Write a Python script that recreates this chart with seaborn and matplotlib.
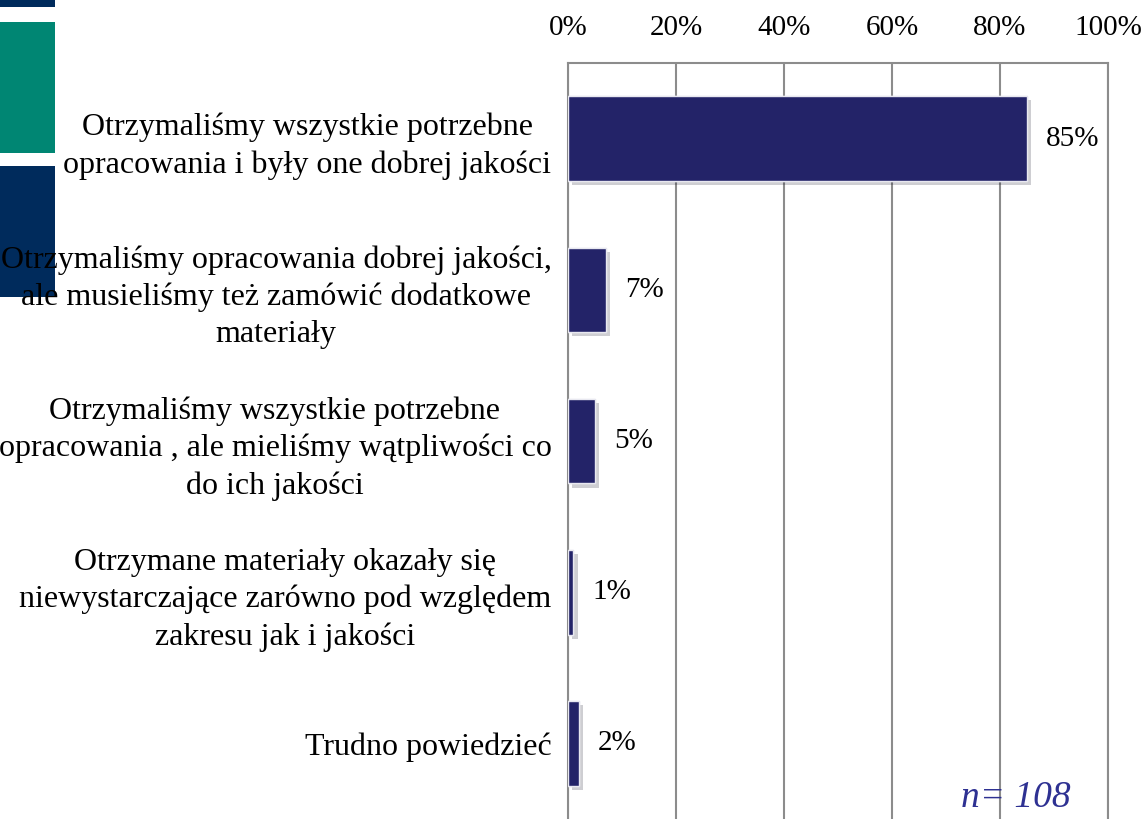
import seaborn as sns
import matplotlib.pyplot as plt
import matplotlib.patheffects as pe
from matplotlib.patches import Rectangle
import pandas as pd

categories = [
    'Otrzymaliśmy wszystkie potrzebne\nopracowania i były one dobrej jakości',
    'Otrzymaliśmy opracowania dobrej jakości,\nale musieliśmy też zamówić dodatkowe\nmateriały',
    'Otrzymaliśmy wszystkie potrzebne\nopracowania , ale mieliśmy wątpliwości co\ndo ich jakości',
    'Otrzymane materiały okazały się\nniewystarczające zarówno pod względem\nzakresu jak i jakości',
    'Trudno powiedzieć',
]
values = [85, 7, 5, 1, 2]
tick_vals = [0, 20, 40, 60, 80, 100]
n_label = 'n= 108'

sns.set_style('white')
plt.rcParams['font.family'] = ['Liberation Serif', 'DejaVu Serif']
plt.rcParams['text.color'] = 'black'
plt.rcParams['xtick.color'] = 'black'
plt.rcParams['ytick.color'] = 'black'

df = pd.DataFrame({'cat': categories, 'val': values})

fig = plt.figure(figsize=(11.43, 8.19), dpi=100)
ax = fig.add_axes([0.497, 0.0, 0.4724, 0.923])

# decorative blocks on the left edge
for (y0, h, c) in [(0.991, 0.02, '#002b5c'), (0.813, 0.16, '#008673'), (0.637, 0.16, '#002b5c')]:
    fig.add_artist(Rectangle((0, y0), 0.048, h, transform=fig.transFigure,
                             facecolor=c, edgecolor='none', zorder=-1))

sns.barplot(data=df, x='val', y='cat', color='#232368', width=0.56,
            saturation=1, ax=ax, zorder=3)
for p in ax.patches:
    p.set_edgecolor('#e8e8f0')
    p.set_linewidth(1)
    p.set_path_effects([pe.withSimplePatchShadow(offset=(3, -3), alpha=0.2), pe.Normal()])

for i, v in enumerate(values):
    ax.text(v + 3.5, i, f'{v}%', va='center', ha='left', fontsize=21, color='black')

ax.set_xlim(0, 100)
ax.set_ylim(4.5, -0.5)
ax.set_xticks(tick_vals)
ax.set_xticklabels([f'{t}%' for t in tick_vals], fontsize=21)
ax.xaxis.tick_top()
ax.tick_params(axis='x', length=0, pad=16, labelcolor='black')
ax.tick_params(axis='y', length=0, pad=12, labelcolor='black')
for lab in ax.get_yticklabels():
    lab.set_fontsize(23)
    lab.set_multialignment('center')
    lab.set_linespacing(1.35)
ax.set_xlabel('')
ax.set_ylabel('')
ax.xaxis.grid(True, color='#8c8c8c', linewidth=1.5)
ax.set_axisbelow(True)
for s in ['top', 'left', 'right']:
    ax.spines[s].set_visible(True)
    ax.spines[s].set_color('#8c8c8c')
    ax.spines[s].set_linewidth(1.5)
ax.spines['bottom'].set_visible(False)

ax.text(93, 4.36, n_label, ha='right', va='center', fontsize=27,
        style='italic', color='#2e3192')

plt.savefig('out.png', dpi=100)
